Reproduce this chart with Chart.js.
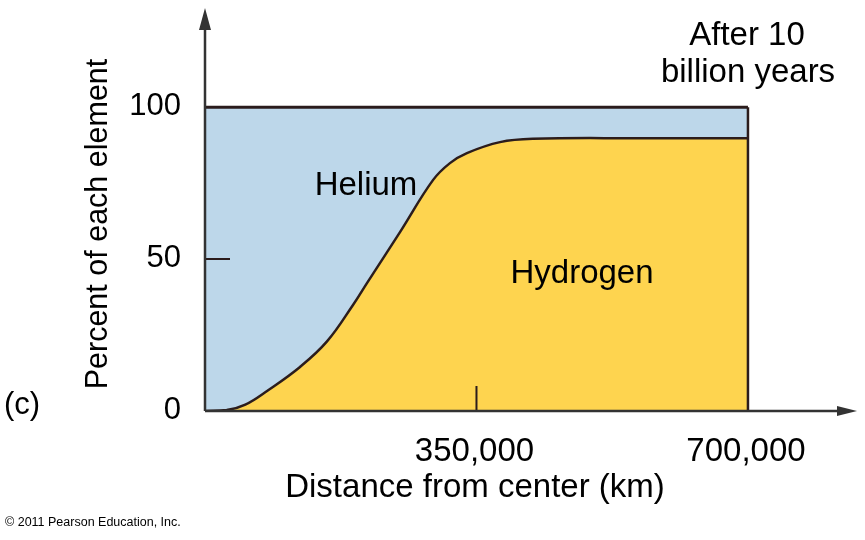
<!DOCTYPE html>
<html>
<head>
<meta charset="utf-8">
<script src="https://cdn.jsdelivr.net/npm/chart.js@4.4.1/dist/chart.umd.min.js"></script>
<style>
  html, body { margin: 0; padding: 0; background: #fff; }
  #wrap { width: 865px; height: 540px; }
</style>
</head>
<body>
<div id="wrap"><canvas id="chart" width="865" height="540"></canvas></div>
<script>
// distance from center (km) and percent hydrogen
const distanceKm = [0, 28000, 52000, 80000, 122500, 157300, 190800, 208800, 251400, 293900, 315800, 337700, 380300, 422800, 560000, 700000];
const hydrogenPct = [0, 0.3, 2.1, 6.6, 14.5, 22.9, 34.9, 42.1, 58.9, 76.0, 81.6, 84.9, 88.5, 89.6, 89.8, 89.8];
const totalPct = [100, 100];
const totalKm = [0, 700000];

const yTicks = [0, 50, 100];
const xTicks = [350000, 700000];
const xTickLabels = ['350,000', '700,000'];

const FONT = '"Liberation Sans", Arial, Helvetica, sans-serif';
const BLUE = '#bdd7ea';
const YELLOW = '#fed44f';
const INK = '#2b1c1c';

const toPoints = (xs, ys) => xs.map((x, i) => ({ x, y: ys[i] }));

// axes, arrows, ticks, labels drawn from the chart's scales
const decor = {
  id: 'decor',
  afterDatasetsDraw(chart) {
    const { ctx, chartArea: area, scales: { x, y } } = chart;
    const x0 = x.getPixelForValue(0);
    const y0 = y.getPixelForValue(0);
    const xEnd = x.getPixelForValue(700000);
    const y100 = y.getPixelForValue(100);

    ctx.save();
    // right edge of the box
    ctx.strokeStyle = INK;
    ctx.lineWidth = 2.5;
    ctx.beginPath();
    ctx.moveTo(xEnd, y0);
    ctx.lineTo(xEnd, y100);
    ctx.stroke();

    // inner tick marks
    ctx.lineWidth = 2;
    ctx.beginPath();
    const y50 = y.getPixelForValue(50);
    ctx.moveTo(x0, y50);
    ctx.lineTo(x0 + 25, y50);
    const x350 = x.getPixelForValue(350000);
    ctx.moveTo(x350, y0);
    ctx.lineTo(x350, y0 - 25);
    ctx.stroke();

    // axes with arrows
    ctx.strokeStyle = '#333';
    ctx.fillStyle = '#333';
    ctx.lineWidth = 2.5;
    ctx.beginPath();
    ctx.moveTo(x0, y0);
    ctx.lineTo(x0, area.top + 12);
    ctx.moveTo(x0, y0);
    ctx.lineTo(area.right - 12, y0);
    ctx.stroke();
    ctx.beginPath();
    ctx.moveTo(x0, area.top - 2);
    ctx.lineTo(x0 - 6, area.top + 20);
    ctx.lineTo(x0 + 6, area.top + 20);
    ctx.closePath();
    ctx.fill();
    ctx.beginPath();
    ctx.moveTo(area.right + 2, y0);
    ctx.lineTo(area.right - 18, y0 - 5);
    ctx.lineTo(area.right - 18, y0 + 5);
    ctx.closePath();
    ctx.fill();

    // tick labels
    ctx.fillStyle = '#000';
    ctx.textBaseline = 'alphabetic';
    ctx.font = '31px ' + FONT;
    ctx.textAlign = 'right';
    yTicks.forEach((t) => ctx.fillText(String(t), 181, y.getPixelForValue(t) + 8));
    ctx.font = '33px ' + FONT;
    ctx.textAlign = 'center';
    xTicks.forEach((t, i) => ctx.fillText(xTickLabels[i], x.getPixelForValue(t) - 2, 461));

    // axis titles
    ctx.fillText('Distance from center (km)', 475, 497);
    ctx.font = '30.5px ' + FONT;
    ctx.save();
    ctx.translate(107, 224);
    ctx.rotate(-Math.PI / 2);
    ctx.fillText('Percent of each element', 0, 0);
    ctx.restore();

    ctx.font = '31px ' + FONT;
    ctx.textAlign = 'left';
    ctx.fillText('(c)', 4, 414);

    // region labels
    ctx.font = '33px ' + FONT;
    ctx.textAlign = 'center';
    ctx.fillText('Helium', 366, 195);
    ctx.fillText('Hydrogen', 582, 283);

    ctx.fillText('After 10', 747, 45);
    ctx.fillText('billion years', 748, 82);

    ctx.textAlign = 'left';
    ctx.font = '12.5px ' + FONT;
    ctx.fillText('\u00a9 2011 Pearson Education, Inc.', 5, 526);
    ctx.restore();
  },
};

new Chart(document.getElementById('chart'), {
  type: 'line',
  data: {
    datasets: [
      {
        label: 'Hydrogen',
        data: toPoints(distanceKm, hydrogenPct),
        borderColor: INK,
        borderWidth: 2.5,
        backgroundColor: YELLOW,
        fill: 'origin',
        tension: 0.4,
        pointRadius: 0,
      },
      {
        label: 'Helium',
        data: toPoints(totalKm, totalPct),
        borderColor: INK,
        borderWidth: 3,
        backgroundColor: BLUE,
        fill: '-1',
        pointRadius: 0,
      },
    ],
  },
  options: {
    responsive: false,
    animation: false,
    layout: { padding: { left: 205, right: 10, top: 10, bottom: 129 } },
    plugins: { legend: { display: false }, tooltip: { enabled: false } },
    scales: {
      x: { type: 'linear', min: 0, max: 838000, display: false },
      y: { type: 'linear', min: 0, max: 132, display: false },
    },
  },
  plugins: [decor],
});
</script>
</body>
</html>
